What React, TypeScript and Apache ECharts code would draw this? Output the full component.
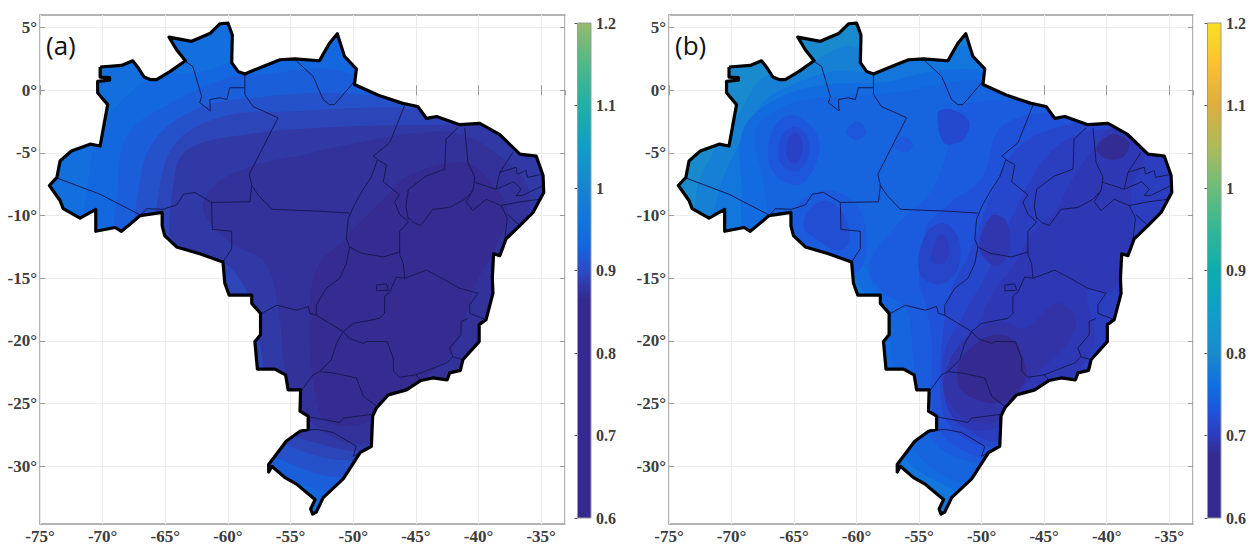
import React, { useEffect, useRef } from "react";
import * as echarts from "echarts";

const lonTicks = [-75, -70, -65, -60, -55, -50, -45, -40, -35];
const latTicks = [5, 0, -5, -10, -15, -20, -25, -30];
const barTicks = [0.6, 0.7, 0.8, 0.9, 1, 1.1, 1.2];

const cmapA: [number, string][] = [[0.6, "#352a8f"], [0.865, "#352a8f"], [0.9, "#2a4cc4"], [0.93, "#1565e0"], [0.96, "#1274dc"], [1, "#1984cf"], [1.05, "#109ec5"], [1.1, "#20afa8"], [1.15, "#50b888"], [1.2, "#95bb6a"]];
const cmapB: [number, string][] = [[0.6, "#352a8f"], [0.675, "#352a8f"], [0.7, "#2d3bbd"], [0.73, "#1e55dc"], [0.76, "#0f6fe0"], [0.8, "#1a8ace"], [0.85, "#0e9fc8"], [0.9, "#0cadb0"], [0.95, "#33b795"], [1, "#6cbd78"], [1.05, "#aebb5a"], [1.1, "#dcae3e"], [1.15, "#fcc030"], [1.2, "#f8e020"]];

const outline: number[][] = [
  [-70.2, 1.85], [-68.5, 1.98], [-67.6, 2.35], [-67.15, 1.77], [-66.7, 1.06], [-66.2, 0.85], [-65.7, 0.85], [-64.6, 1.5], [-63.4, 2.35], [-64.1, 3.23], [-64.7, 4.23], [-62.9, 3.9], [-61.4, 4.55], [-60.65, 5.3], [-60, 5.35], [-59.65, 4.4], [-59.7, 2.2], [-59.2, 1.5], [-58.65, 1.3], [-57.2, 1.9], [-55.85, 2.43], [-54.65, 2.5], [-52.7, 2.35], [-51.9, 3.75], [-51.27, 4.5], [-50.7, 2.7], [-49.75, 1.7], [-49.9, 0.45], [-48, -0.4], [-46.05, -1.05], [-44.85, -1.3], [-44.15, -2.25], [-43.35, -2.1], [-41.5, -2.75], [-39.9, -2.65], [-38.3, -3.55], [-36.7, -5.1], [-35.4, -5.25], [-34.85, -6.8], [-34.8, -8.15], [-35.65, -9.75], [-36.7, -10.8], [-37.8, -11.85], [-38.3, -13.2], [-38.8, -13.05], [-38.9, -15], [-38.85, -16.2], [-39.4, -18.3], [-39.95, -18.7], [-39.95, -20.05], [-41.25, -21.5], [-41.45, -22.35], [-42.3, -22.55], [-42.5, -23.1], [-43.65, -22.95], [-44.6, -23.15], [-45.75, -23.9], [-47.2, -24.3], [-48.15, -25.35], [-48.45, -26], [-48.55, -28.4], [-49.45, -28.9], [-50.8, -31], [-52.4, -32.5], [-52.95, -33.65], [-53.25, -33.8], [-53.4, -33.4], [-53.05, -32.65], [-54.55, -31.4], [-55.45, -30.9], [-56.5, -30], [-56.75, -30.45], [-56.75, -29.85], [-55.35, -28], [-54.25, -27.2], [-53.6, -27.05], [-53.6, -26], [-54.25, -25.6], [-54.2, -23.9], [-55.2, -23.9], [-55.4, -22.7], [-56.25, -22.25], [-57.65, -22.25], [-57.85, -20.05], [-57.4, -19.5], [-57.4, -17.8], [-58.1, -17], [-58.1, -16.35], [-59.9, -16.35], [-60.25, -15.4], [-60.4, -13.7], [-62.25, -13.05], [-64.1, -12.5], [-65.05, -11.6], [-65.25, -10.8], [-65.25, -9.75], [-67, -10], [-67.95, -10.8], [-68.5, -11.25], [-69, -10.95], [-70.55, -11.25], [-70.55, -9.5], [-71.8, -10.2], [-73.15, -9.45], [-73.4, -8.8], [-74.25, -7.6], [-73.65, -6.95], [-73.4, -5.65], [-72.5, -4.85], [-71, -4.3], [-70.2, -4.45], [-69.6, -1.15], [-70.4, -0.2], [-70.4, 0.7], [-69.45, 0.8], [-69.45, 1.0], [-70.2, 1.05], [-70.2, 1.85],
];

const stateLines: number[][][] = [
  [[-73.65, -7], [-70.2, -8.3], [-67, -9.95]],
  [[-67, -10], [-66.5, -9.45], [-65.2, -9.5], [-64.1, -9.15], [-63.55, -8.3], [-62.65, -8.15], [-61.3, -8.95]],
  [[-61.3, -8.95], [-58.25, -8.9], [-58.1, -7.6], [-58.3, -6.7], [-56, -2.2], [-58, -1.3], [-58.65, -0.35], [-58.65, 1.3]],
  [[-63.4, 2.3], [-62.8, 1.9], [-62.1, -0.5], [-62.25, -1], [-61.4, -1.65], [-61.45, -0.75], [-60.65, -0.6], [-60.1, -0.75], [-59.85, 0.2], [-58.7, 0.2]],
  [[-61.3, -8.95], [-61.25, -11.1], [-59.7, -11.25], [-59.7, -12.65], [-60.4, -13.7]],
  [[-58.1, -7.6], [-57.55, -8.4], [-56.5, -9.5], [-52.7, -9.65], [-50.3, -9.8]],
  [[-54.65, 2.45], [-53.2, 1.1], [-52.4, -0.75], [-51.9, -1.15], [-51.5, -1.15], [-49.9, 0.7]],
  [[-45.9, -1.2], [-46.45, -2.6], [-47.1, -4.2], [-48.4, -5.25], [-48.05, -5.5], [-48.55, -6.9], [-49.2, -7.9], [-49.9, -9.1], [-50.4, -10.25], [-50.55, -11.85], [-50.3, -12.5], [-49.35, -13], [-47.6, -13.3], [-46.3, -12.9]],
  [[-48.05, -5.55], [-47.35, -5.95], [-47.6, -7.3], [-46.3, -8.35], [-46.7, -8.9], [-46.3, -9.9], [-45.6, -10.5], [-46.3, -11.25], [-46.3, -13.1], [-46, -13.83], [-45.9, -15]],
  [[-41.65, -3], [-42.6, -3.9], [-42.7, -6.3], [-44.2, -6.85], [-45.6, -7.9], [-45.8, -9.25], [-45.6, -10.3]],
  [[-41.1, -3], [-40.85, -5.75], [-40.3, -6.95], [-40.45, -8], [-41.1, -8.7], [-42.3, -9.35], [-43.65, -9.5], [-44.6, -10.8], [-45.2, -10.55], [-45.6, -10.15]],
  [[-40.3, -7.35], [-38.6, -7.9], [-38.3, -6.55], [-37.25, -4.95]],
  [[-38.3, -6.55], [-37, -6.15], [-36.9, -6.7], [-36.2, -6.4], [-36.1, -6.95], [-34.85, -6.7]],
  [[-38.6, -7.9], [-37.2, -7.3], [-36.6, -7.9], [-37, -8.4], [-36.5, -8.4], [-34.85, -7.6]],
  [[-40.45, -8], [-41, -8.9], [-40.45, -9.6], [-39.4, -8.7], [-38.2, -9.2], [-37.7, -10.2], [-37.9, -11.9]],
  [[-38.2, -9.2], [-36.7, -8.9], [-35.1, -8.7]],
  [[-37.7, -9.9], [-36.7, -10.8]],
  [[-45.9, -15], [-44.15, -14.35], [-43.1, -14.9], [-41.5, -15.8], [-40.05, -16.2], [-40.7, -17.1], [-40.7, -17.8], [-39.4, -18.3]],
  [[-40.85, -18.2], [-41.4, -18.45], [-41.4, -19.5], [-42.3, -20.55], [-42.05, -21.25], [-41.25, -21.5]],
  [[-42.05, -21.25], [-42.55, -21.75], [-45, -22.7], [-44.6, -23.15]],
  [[-45, -22.7], [-46.3, -22.9], [-46.8, -22.4], [-46.8, -21.4], [-47.3, -20.05], [-48.95, -20.05], [-49.2, -20.2], [-50.3, -19.8], [-50.8, -19.25]],
  [[-50.8, -19.25], [-50, -18.6], [-47.9, -18.2], [-47.5, -17.8], [-47.5, -16.45], [-47.1, -16.1], [-46.55, -14.9], [-45.9, -15]],
  [[-48.15, -15.55], [-47.35, -15.45], [-47.2, -15.95], [-48.15, -16], [-48.15, -15.55]],
  [[-50.55, -13.83], [-51.1, -15], [-52.15, -15.8], [-52.95, -17.15], [-52.95, -17.95], [-50.8, -19.25]],
  [[-50.3, -12.5], [-50.55, -13.83]],
  [[-57.3, -17.8], [-56.1, -17.15], [-54.5, -17.55], [-53.6, -17.25], [-53.45, -17.8], [-52.95, -17.95]],
  [[-50.8, -19.25], [-51.35, -20.2], [-51.75, -21.5], [-52.7, -22.45]],
  [[-52.7, -22.45], [-53.2, -22.7], [-54.1, -23.9]],
  [[-52.7, -22.45], [-51.6, -22.55], [-49.75, -22.95], [-49.2, -24.4], [-48.15, -25.2]],
  [[-53.6, -26.05], [-51.1, -26.5], [-50.8, -26.15], [-48.45, -25.85]],
  [[-54.25, -27.2], [-52.95, -27.05], [-51.6, -27.3], [-49.75, -28.4], [-50, -29.2], [-49.45, -28.9]],
];

type Band = [number, number[][]];
const bandsA: Band[] = [
  [0.95, [[-80, -40], [-80, 10], [-30, 10], [-30, -40]]],
  [0.935, [[-71, -14], [-71, -6], [-69.5, -2], [-66, 1], [-62, 1.5], [-58, 3], [-52, 6], [-45, 3], [-33, 1], [-33, -36], [-51, -34], [-54, -32], [-58, -30], [-64, -20]]],
  [0.922, [[-68.8, -14], [-68.8, -8], [-68, -3.5], [-64.5, -1], [-60, 1], [-57, 1.3], [-52, 1.7], [-47, 0.5], [-33, -1], [-33, -34], [-50, -32.5], [-52.5, -32], [-55, -31], [-57.5, -29.5], [-62, -20]]],
  [0.907, [[-67, -14], [-67, -7], [-65.5, -3.5], [-62, -1.3], [-58, -0.6], [-52, -0.2], [-47, -0.6], [-33, -2], [-33, -33], [-49, -30.8], [-52, -30.8], [-55, -29.8], [-58, -28], [-61, -20]]],
  [0.893, [[-65.5, -14], [-65.5, -8], [-64, -4], [-60, -2], [-55, -1.7], [-49, -1.4], [-44, -1.5], [-33, -2.5], [-33, -32], [-49, -29.6], [-52, -29.4], [-55, -28.4], [-58, -26.5], [-60, -20]]],
  [0.88, [[-64.3, -13.5], [-64.2, -6.5], [-63, -4.6], [-58.3, -3.5], [-52.7, -3], [-46, -2.8], [-41, -2.8], [-33, -3.5], [-33, -31], [-48, -29], [-52, -28.4], [-56, -26.5], [-57.5, -20], [-58.5, -16], [-61, -13.3]]],
  [0.872, [[-62, -9.5], [-61, -7.5], [-58, -6], [-54.3, -5.2], [-49.75, -4.2], [-43.6, -3.3], [-41, -3.65], [-38.3, -5.25], [-36, -8], [-36.5, -12], [-37, -18], [-41, -24], [-48, -28], [-52, -27.5], [-55, -24], [-56, -17.3], [-57, -13.8], [-60, -12]]],
  [0.866, [[-53, -24.5], [-53.5, -18], [-52.8, -14], [-50.8, -12], [-49.75, -10.8], [-47.6, -8.7], [-45.5, -6.8], [-41, -5.8], [-38.6, -7.9], [-37.65, -9.75], [-38.6, -12.4], [-40.2, -15.4], [-42, -20.7], [-43.9, -22.6], [-47, -24.5], [-49, -26.5], [-52, -26.5]]],
];

const bandsB: Band[] = [
  [0.8, [[-80, -40], [-80, 10], [-30, 10], [-30, -40]]],
  [0.785, [[-72.5, -13], [-72.8, -8], [-71.5, -5], [-69.5, -2], [-67.5, 1], [-64, 2], [-61, 3.5], [-58, 3], [-52, 5], [-45, 3], [-33, -1], [-33, -38], [-52, -38], [-55, -33], [-58, -28], [-60, -21], [-68, -15]]],
  [0.77, [[-71.5, -13], [-71, -8], [-69.5, -4.5], [-67.5, -1], [-65, 0.5], [-62, 1.5], [-59, 1.5], [-55, 3], [-51, 3.5], [-45, 1], [-33, -2], [-33, -36], [-50, -35], [-53, -33.5], [-56, -31.5], [-60, -27], [-61, -20], [-66, -14]]],
  [0.755, [[-68.5, -12.5], [-69.2, -7.5], [-69, -3], [-66, -0.5], [-62, 0.5], [-58, 0.6], [-54, 1.5], [-50, 1.6], [-46, 0.3], [-33, -2], [-33, -35], [-50, -32.8], [-53, -31.5], [-56, -29.5], [-58, -25], [-58.4, -20], [-59.5, -16], [-62, -13.5]]],
  [0.747, [[-66, -12], [-67.5, -7], [-68, -3], [-65, -1], [-61, -0.5], [-57, -0.2], [-53, 0.5], [-50, 0.8], [-46, -0.3], [-33, -2], [-33, -34], [-50, -31.5], [-53, -30.8], [-55.5, -28.5], [-57, -25], [-57.3, -20], [-58.5, -16], [-60.7, -12.5]]],
  [0.733, [[-67, -5.8], [-66.8, -3.4], [-65.5, -2], [-64, -2.5], [-63, -4], [-63.3, -6], [-64.5, -7.5], [-66, -7.2]]],
  [0.72, [[-66.2, -5.5], [-66, -3.7], [-65, -2.9], [-64, -3.6], [-63.8, -5], [-64.6, -6.4], [-65.6, -6.3]]],
  [0.708, [[-65.6, -5.2], [-65.4, -3.8], [-64.8, -3.4], [-64.3, -4.2], [-64.5, -5.4], [-65, -5.8]]],
  [0.732, [[-60.8, -3.3], [-60, -2.5], [-59.2, -3.3], [-60, -4]]],
  [0.735, [[-57, -4.4], [-56.2, -3.7], [-55.5, -4.4], [-56.2, -5]]],
  [0.737, [[-65.2, -12], [-64.6, -9], [-62, -8], [-59.8, -9.5], [-59.2, -12.5], [-60, -14.5], [-63, -13.5]]],
  [0.722, [[-64.2, -11], [-63.8, -9.5], [-62.3, -8.8], [-61, -10], [-60.6, -12], [-61.5, -12.8], [-63, -12]]],
  [0.737, [[-58, -16], [-59, -14], [-57, -11], [-54, -8], [-52.5, -4], [-52, -1.5], [-48, -0.8], [-33, -2], [-33, -33], [-49, -30], [-53, -28.8], [-55, -26], [-55.5, -21], [-56, -17.5]]],
  [0.727, [[-55, -15], [-54.3, -13], [-54.5, -11], [-52.5, -9], [-50, -7], [-48.5, -3], [-45, -1.8], [-40, -2], [-33, -2], [-33, -30], [-48, -29.5], [-51, -29], [-53.5, -27], [-54, -24], [-54, -20], [-54.5, -17]]],
  [0.716, [[-53.5, -1.8], [-52.5, -1.5], [-51, -2.5], [-51.5, -4], [-53, -4.2]]],
  [0.714, [[-52.5, -16], [-51, -13], [-49.5, -9], [-47.5, -5], [-45, -3.3], [-41, -2.5], [-33, -3], [-33, -29], [-48, -28.5], [-51, -28], [-53, -26], [-53.3, -22], [-53, -18.5]]],
  [0.712, [[-55, -14.5], [-54.5, -11.5], [-53, -10.6], [-51.8, -12], [-52, -14.5], [-53.5, -15.5]]],
  [0.7, [[-54, -13.6], [-53.6, -11.8], [-53, -11.5], [-52.6, -12.6], [-53, -13.8]]],
  [0.703, [[-51.5, -18], [-49.5, -14.5], [-48, -11], [-46, -7], [-44, -4.5], [-41, -3.2], [-33, -3.5], [-33, -12], [-38, -20], [-42, -25], [-48, -28], [-50.5, -27.5], [-52.8, -25], [-53, -21]]],
  [0.695, [[-50.5, -19], [-49, -16], [-47.5, -14], [-46, -11.5], [-44, -9.5], [-43, -7.5], [-41.3, -5], [-39.5, -3], [-37, -5], [-38, -8], [-38, -12], [-39.5, -16], [-41.5, -16], [-41, -20], [-43, -23], [-46, -24], [-49, -27], [-52, -26.5], [-53, -23]]],
  [0.692, [[-50.2, -12.5], [-49.2, -10], [-48, -10.5], [-47.8, -13], [-49, -14]]],
  [0.688, [[-52.5, -21.5], [-51, -19.5], [-48.5, -18.5], [-46.5, -19], [-44, -17], [-42.5, -18], [-43, -20], [-45, -22], [-47, -24], [-49, -26.5], [-51.5, -26], [-53, -24]]],
  [0.675, [[-51.8, -21.8], [-50, -19.9], [-48, -19.6], [-46.8, -21], [-46.5, -23], [-48, -24.8], [-50, -24.8], [-51.7, -23.8]]],
  [0.678, [[-40.8, -4.6], [-39.5, -3.5], [-38.2, -4.2], [-38.8, -5.4], [-40.2, -5.4]]],
];

function hexToRgb(h: string) {
  return [parseInt(h.slice(1, 3), 16), parseInt(h.slice(3, 5), 16), parseInt(h.slice(5, 7), 16)];
}
function colorOf(cmap: [number, string][], v: number) {
  for (let i = 1; i < cmap.length; i++) {
    if (v <= cmap[i][0]) {
      const t = (v - cmap[i - 1][0]) / (cmap[i][0] - cmap[i - 1][0]);
      const a = hexToRgb(cmap[i - 1][1]);
      const b = hexToRgb(cmap[i][1]);
      return `rgb(${a.map((c, k) => Math.round(c + (b[k] - c) * t)).join(",")})`;
    }
  }
  return cmap[cmap.length - 1][1];
}

const serif = "'Liberation Serif', serif";
const labelStyle = { fontFamily: serif, fontWeight: "bold" as const, fontSize: 17, color: "#3c3c3c" };
const frame = "#9a9a9a";
const grid = "#ececec";

export default function App() {
  const ref = useRef<HTMLDivElement>(null);
  useEffect(() => {
    const chart = echarts.init(ref.current!, undefined, { renderer: "svg" });
    const panels = [
      { left: 40, right: 1255 - 565, bands: bandsA, cmap: cmapA, barL: 577.5, name: "(a)", tx: 46 },
      { left: 669, right: 1255 - 1193, bands: bandsB, cmap: cmapB, barL: 1207.5, name: "(b)", tx: 675 },
    ];
    const grids: any[] = [];
    const xAxes: any[] = [];
    const yAxes: any[] = [];
    const series: any[] = [];
    const graphic: any[] = [];
    panels.forEach((p) => {
      const gi = grids.length;
      grids.push({ left: p.left, right: p.right, top: 15, bottom: 545 - 526, show: true, backgroundColor: "#fff", borderColor: frame, borderWidth: 1.5 });
      const xBase = { type: "value", gridIndex: gi, min: lonTicks[0], max: -33.1, interval: 5 };
      const yBase = { type: "value", gridIndex: gi, min: -34.6, max: 6 };
      const xi = xAxes.length;
      const yi = yAxes.length;
      xAxes.push({
        ...xBase, position: "bottom",
        axisLine: { show: false },
        axisTick: { show: true, inside: true, length: 5, lineStyle: { color: frame } },
        axisLabel: { ...labelStyle, margin: 4, showMinLabel: true, formatter: (v: number) => `${v}°` },
        splitLine: { show: true, lineStyle: { color: grid, width: 1 } },
      });
      xAxes.push({ ...xBase, position: "top", axisLine: { show: false }, axisTick: { show: true, inside: true, length: 5, lineStyle: { color: frame } }, axisLabel: { show: false }, splitLine: { show: false } });
      yAxes.push({
        ...yBase, position: "left",
        axisLine: { show: false },
        axisTick: { show: true, inside: true, length: 5, lineStyle: { color: frame }, customValues: latTicks },
        axisLabel: { ...labelStyle, margin: 3, customValues: latTicks, formatter: (v: number) => `${v}°` },
        splitLine: { show: true, lineStyle: { color: grid, width: 1 }, customValues: latTicks },
      });
      yAxes.push({ ...yBase, position: "right", axisLine: { show: false }, axisTick: { show: true, inside: true, length: 5, lineStyle: { color: frame }, customValues: latTicks }, axisLabel: { show: false }, splitLine: { show: false } });

      series.push({
        type: "custom", xAxisIndex: xi, yAxisIndex: yi, clip: false, silent: true, z: 3,
        data: p.bands.map((b, i) => [i, b[0]]),
        renderItem: (_: any, api: any) => {
          const i = api.value(0);
          const band = p.bands[i];
          return {
            type: "polygon",
            shape: { points: band[1].map((q) => api.coord(q)), smooth: i === 0 ? 0 : 0.35 },
            style: { fill: colorOf(p.cmap, band[0]) },
            clipPath: { type: "polygon", shape: { points: outline.map((q) => api.coord(q)) } },
          };
        },
      });
      series.push({
        type: "custom", xAxisIndex: xi, yAxisIndex: yi, clip: false, silent: true, z: 4,
        data: stateLines.map((_, i) => [i]),
        renderItem: (_: any, api: any) => ({
          type: "polyline",
          shape: { points: stateLines[api.value(0)].map((q) => api.coord(q)) },
          style: { stroke: "#161a55", lineWidth: 1, fill: "none" },
        }),
      });
      series.push({
        type: "line", xAxisIndex: xi, yAxisIndex: yi, silent: true, z: 5, showSymbol: false, symbol: "none",
        data: outline,
        lineStyle: { color: "#000", width: 3.2, join: "round" },
      });

      const bi = grids.length;
      grids.push({ left: p.barL, width: 13.5, top: 23, height: 495, show: false });
      const bxi = xAxes.length;
      const byi = yAxes.length;
      xAxes.push({ type: "value", gridIndex: bi, min: 0, max: 1, show: false });
      yAxes.push({
        type: "value", gridIndex: bi, min: barTicks[0], max: barTicks[barTicks.length - 1], interval: 0.1, position: "right",
        axisLine: { show: false },
        axisTick: { show: true, inside: true, length: 3, lineStyle: { color: "#555" } },
        axisLabel: { ...labelStyle, fontSize: 16, margin: 5, formatter: (v: number) => `${Math.round(v * 10) / 10}` },
        splitLine: { show: false },
      });
      series.push({
        type: "custom", xAxisIndex: bxi, yAxisIndex: byi, silent: true, clip: false, z: 1,
        data: [[0, 1, 0.6, 1.2]],
        renderItem: (_: any, api: any) => {
          const a = api.coord([api.value(0), api.value(3)]);
          const b = api.coord([api.value(1), api.value(2)]);
          const span = 1.2 - 0.6;
          return {
            type: "rect",
            shape: { x: a[0], y: a[1], width: b[0] - a[0], height: b[1] - a[1] },
            style: {
              fill: new echarts.graphic.LinearGradient(0, 1, 0, 0, p.cmap.map((c) => ({ offset: (c[0] - 0.6) / span, color: c[1] }))),
              stroke: "#9a9a9a", lineWidth: 1,
            },
          };
        },
      });
      graphic.push({ type: "text", x: p.tx, y: 32, z: 10, style: { text: p.name, fontFamily: "'Open Sans', sans-serif", fontSize: 26, fill: "#111" } });
    });
    chart.setOption({ animation: false, backgroundColor: "#fff", grid: grids, xAxis: xAxes, yAxis: yAxes, series, graphic });
    return () => chart.dispose();
  }, []);
  return <div ref={ref} style={{ position: "absolute", left: 0, top: 0, width: 1255, height: 545 }} />;
}
